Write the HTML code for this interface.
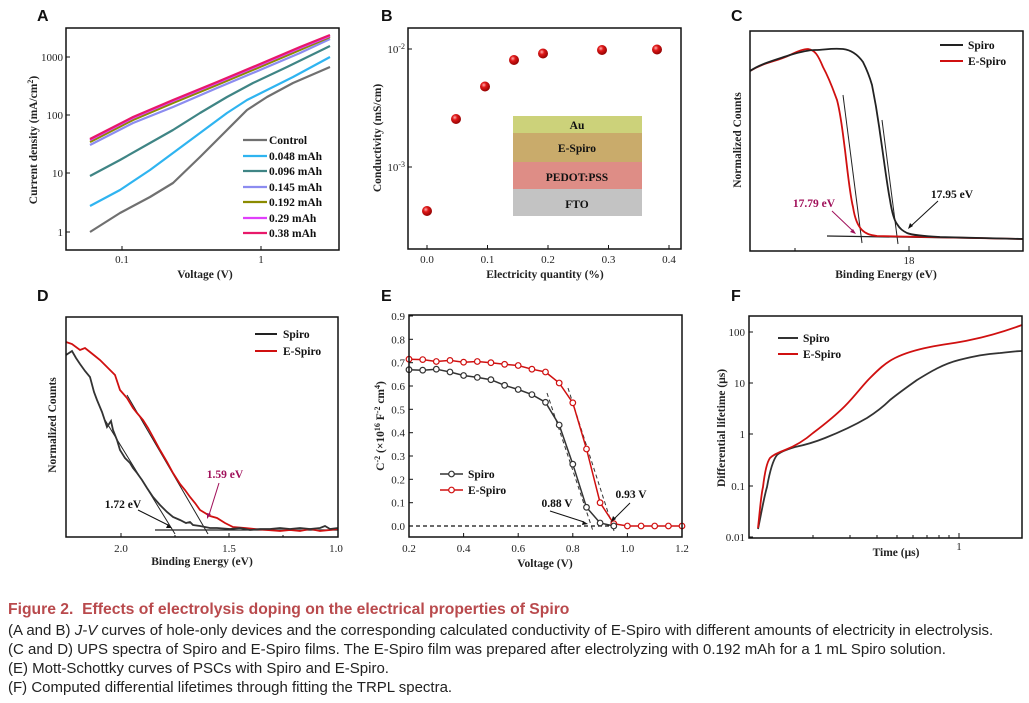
<!DOCTYPE html>
<html><head><meta charset="utf-8">
<style>
html,body{margin:0;padding:0;background:#fff;}
body{width:1029px;height:703px;overflow:hidden;position:relative;}
svg text{font-family:"Liberation Serif",serif;}
.tk{font-size:11px;fill:#222;}
.ti{font-size:11.5px;font-weight:bold;fill:#222;}
.lg{font-size:11.5px;font-weight:bold;fill:#111;}
.pl{font-family:"Liberation Sans",sans-serif !important;font-size:16px;font-weight:bold;fill:#111;}
.cap{position:absolute;left:8px;font-family:"Liberation Sans",sans-serif;font-size:15px;color:#222;white-space:nowrap;}
</style></head><body>
<svg width="1029" height="600" viewBox="0 0 1029 600" style="position:absolute;left:0;top:0">
<defs>
<radialGradient id="sp" cx="0.38" cy="0.35" r="0.7">
<stop offset="0" stop-color="#ffb0b0"/><stop offset="0.35" stop-color="#e01818"/><stop offset="1" stop-color="#8a0000"/>
</radialGradient>
</defs>
<text class="pl" x="37" y="21">A</text>
<text class="pl" x="381" y="21">B</text>
<text class="pl" x="731" y="21">C</text>
<text class="pl" x="37" y="301">D</text>
<text class="pl" x="381" y="301">E</text>
<text class="pl" x="731" y="301">F</text>

<!-- ===== Panel A ===== -->
<g fill="none" stroke-width="2.2" stroke-linejoin="round">
<polyline stroke="#707070" points="90,232 120,213 150,197 173,183 200,157 227,130 247,110 267,97 293,83 330,67"/>
<polyline stroke="#2fb4f0" points="90,206 120,190 150,170 173,153 200,133 227,113 247,100 267,90 293,77 330,57"/>
<polyline stroke="#3f8585" points="90,176 120,160 150,143 173,130 200,113 227,97 253,83 287,67 330,46"/>
<polyline stroke="#8c8cf0" points="90,145 133,123 173,107 217,88 260,70 300,53 330,39"/>
<polyline stroke="#8b8b00" points="90,142 133,120 173,103 217,85 260,67 300,50 330,37"/>
<polyline stroke="#e040fb" points="90,140 133,118 173,101 217,83 260,65 300,48 330,36"/>
<polyline stroke="#e8196a" points="90,139 133,117 173,100 217,82 260,64 300,47 330,35"/>
</g>
<rect x="66" y="28" width="273" height="222" fill="none" stroke="#111" stroke-width="1.5"/>
<g stroke="#111" stroke-width="1">
<line x1="66" y1="57" x2="70" y2="57"/><line x1="66" y1="115" x2="70" y2="115"/><line x1="66" y1="173" x2="70" y2="173"/><line x1="66" y1="232" x2="70" y2="232"/>
<line x1="122" y1="250" x2="122" y2="246"/><line x1="261" y1="250" x2="261" y2="246"/>
</g>
<g class="tk" text-anchor="end"><text x="63" y="61">1000</text><text x="63" y="119">100</text><text x="63" y="177">10</text><text x="63" y="236">1</text></g>
<g class="tk" text-anchor="middle"><text x="122" y="263">0.1</text><text x="261" y="263">1</text></g>
<text class="ti" x="205" y="278" text-anchor="middle">Voltage (V)</text>
<text class="ti" transform="translate(37,140) rotate(-90)" text-anchor="middle">Current density (mA/cm<tspan dy="-4" font-size="8">2</tspan><tspan dy="4">)</tspan></text>
<g stroke-width="2.2">
<line x1="243" y1="140" x2="267" y2="140" stroke="#707070"/>
<line x1="243" y1="156" x2="267" y2="156" stroke="#2fb4f0"/>
<line x1="243" y1="171" x2="267" y2="171" stroke="#3f8585"/>
<line x1="243" y1="187" x2="267" y2="187" stroke="#8c8cf0"/>
<line x1="243" y1="202" x2="267" y2="202" stroke="#8b8b00"/>
<line x1="243" y1="218" x2="267" y2="218" stroke="#e040fb"/>
<line x1="243" y1="233" x2="267" y2="233" stroke="#e8196a"/>
</g>
<g class="lg"><text x="269" y="144">Control</text><text x="269" y="160">0.048 mAh</text><text x="269" y="175">0.096 mAh</text><text x="269" y="191">0.145 mAh</text><text x="269" y="206">0.192 mAh</text><text x="269" y="222">0.29 mAh</text><text x="269" y="237">0.38 mAh</text></g>

<!-- ===== Panel B ===== -->
<rect x="513" y="116" width="129" height="17" fill="#ccd27a"/>
<rect x="513" y="133" width="129" height="29" fill="#c9ab6b"/>
<rect x="513" y="162" width="129" height="27" fill="#de8d86"/>
<rect x="513" y="189" width="129" height="27" fill="#c3c3c3"/>
<g class="lg" text-anchor="middle"><text x="577" y="129">Au</text><text x="577" y="152">E-Spiro</text><text x="577" y="181">PEDOT:PSS</text><text x="577" y="208">FTO</text></g>
<g fill="url(#sp)">
<circle cx="427" cy="211" r="5"/><circle cx="456" cy="119" r="5"/><circle cx="485" cy="86.5" r="5"/><circle cx="514" cy="60" r="5"/><circle cx="543" cy="53.5" r="5"/><circle cx="602" cy="50" r="5"/><circle cx="657" cy="49.5" r="5"/>
</g>
<rect x="408" y="28" width="273" height="221" fill="none" stroke="#111" stroke-width="1.5"/>
<g stroke="#111" stroke-width="1">
<line x1="408" y1="49" x2="412" y2="49"/><line x1="408" y1="167" x2="412" y2="167"/>
<line x1="427" y1="249" x2="427" y2="245"/><line x1="487.5" y1="249" x2="487.5" y2="245"/><line x1="548" y1="249" x2="548" y2="245"/><line x1="608.5" y1="249" x2="608.5" y2="245"/><line x1="669" y1="249" x2="669" y2="245"/>
</g>
<g class="tk" text-anchor="end"><text x="405" y="53">10<tspan dy="-4" font-size="8">-2</tspan></text><text x="405" y="171">10<tspan dy="-4" font-size="8">-3</tspan></text></g>
<g class="tk" text-anchor="middle"><text x="427" y="263">0.0</text><text x="487.5" y="263">0.1</text><text x="548" y="263">0.2</text><text x="608.5" y="263">0.3</text><text x="669" y="263">0.4</text></g>
<text class="ti" x="545" y="278" text-anchor="middle">Electricity quantity (%)</text>
<text class="ti" transform="translate(381,138) rotate(-90)" text-anchor="middle">Conductivity (mS/cm)</text>

<!-- ===== Panel C ===== -->
<line x1="827" y1="236" x2="1023" y2="239" stroke="#222" stroke-width="1.2"/>
<line x1="843" y1="95" x2="862" y2="243" stroke="#222" stroke-width="1"/>
<line x1="882" y1="120" x2="898" y2="244" stroke="#222" stroke-width="1"/>
<path d="M750,71 C765,62 775,62 790,55 C800,50 805,49 808,49 C815,50 818,55 823,67 C830,80 834,92 837,100 C841,115 843,135 845,150 C848,175 850,195 853,207 C855,220 858,226 862,230 C866,234 870,235 877,236 L1023,239" fill="none" stroke="#d01010" stroke-width="1.8"/>
<path d="M750,71 C760,64 775,60 790,55 C800,52 808,50 815,50 C825,50 830,48 843,49 C852,50 858,55 863,62 C867,70 870,78 872,85 C875,100 878,118 880,133 C884,160 887,185 890,200 C892,213 894,220 897,224 C900,229 903,231 907,233 C912,235 920,236 940,237 L1023,239" fill="none" stroke="#222" stroke-width="1.8"/>
<rect x="750" y="31" width="273" height="220" fill="none" stroke="#111" stroke-width="1.5"/>
<g stroke="#111" stroke-width="1"><line x1="795" y1="251" x2="795" y2="248"/><line x1="909" y1="251" x2="909" y2="246"/></g>
<text class="tk" x="909" y="264" text-anchor="middle">18</text>
<text class="ti" x="886" y="278" text-anchor="middle">Binding Energy (eV)</text>
<text class="ti" transform="translate(741,140) rotate(-90)" text-anchor="middle">Normalized Counts</text>
<line x1="940" y1="45" x2="963" y2="45" stroke="#222" stroke-width="2"/><line x1="940" y1="61" x2="963" y2="61" stroke="#d01010" stroke-width="2"/>
<text class="lg" x="968" y="49">Spiro</text><text class="lg" x="968" y="65">E-Spiro</text>
<text class="lg" x="814" y="207" text-anchor="middle" style="fill:#a0105a">17.79 eV</text>
<line x1="832" y1="211" x2="853" y2="231" stroke="#a0105a" stroke-width="1"/><path d="M856,234 l-6,-2 l3,-3z" fill="#a0105a"/>
<text class="lg" x="952" y="198" text-anchor="middle">17.95 eV</text>
<line x1="938" y1="201" x2="911" y2="226" stroke="#111" stroke-width="1"/><path d="M908,229 l2,-6 l3,3z" fill="#111"/>

<!-- ===== Panel D ===== -->
<line x1="155" y1="530" x2="338" y2="530" stroke="#222" stroke-width="1.2"/>
<line x1="105" y1="420" x2="175" y2="534" stroke="#222" stroke-width="1"/>
<line x1="127" y1="395" x2="208" y2="534" stroke="#222" stroke-width="1"/>
<polyline fill="none" stroke="#d01010" stroke-width="1.8" points="66,342 72,344 80,350 85,348 90,352 95,356 100,360 105,365 110,370 115,375 120,390 127,398 133,408 137,413 143,420 148,428 153,437 160,450 167,462 173,473 180,484 185,490 190,497 195,503 200,510 205,513 210,516 217,518 225,523 233,527 245,528 255,529 267,530 280,531 290,530 300,531 310,529 320,531 330,530 338,529"/>
<polyline fill="none" stroke="#333" stroke-width="1.8" points="66,355 69,353 72,351 76,358 80,364 85,371 90,377 94,392 97,400 102,412 107,427 111,421 113,430 117,440 120,450 125,458 130,463 133,468 137,473 142,480 147,488 153,497 160,505 167,512 173,517 180,520 186,523 190,522 193,525 200,526 210,528 217,528 230,529 240,528 250,530 260,529 270,529 280,528 290,529 300,528 310,529 320,528 325,526 330,529 338,528"/>
<rect x="66" y="317" width="272" height="220" fill="none" stroke="#111" stroke-width="1.5"/>
<g stroke="#111" stroke-width="1"><line x1="121" y1="537" x2="121" y2="533"/><line x1="229" y1="537" x2="229" y2="533"/><line x1="175" y1="537" x2="175" y2="535"/><line x1="283" y1="537" x2="283" y2="535"/></g>
<g class="tk" text-anchor="middle"><text x="121" y="552">2.0</text><text x="229" y="552">1.5</text><text x="336" y="552">1.0</text></g>
<text class="ti" x="202" y="565" text-anchor="middle">Binding Energy (eV)</text>
<text class="ti" transform="translate(56,425) rotate(-90)" text-anchor="middle">Normalized Counts</text>
<line x1="255" y1="334" x2="277" y2="334" stroke="#222" stroke-width="2"/><line x1="255" y1="351" x2="277" y2="351" stroke="#d01010" stroke-width="2"/>
<text class="lg" x="283" y="338">Spiro</text><text class="lg" x="283" y="355">E-Spiro</text>
<text class="lg" x="123" y="508" text-anchor="middle">1.72 eV</text>
<line x1="138" y1="510" x2="168" y2="525" stroke="#111" stroke-width="1"/><path d="M172,528 l-6,0 l2,-4z" fill="#111"/>
<text class="lg" x="225" y="478" text-anchor="middle" style="fill:#a0105a">1.59 eV</text>
<line x1="219" y1="483" x2="209" y2="515" stroke="#a0105a" stroke-width="1"/><path d="M207,519 l0,-6 l4,1z" fill="#a0105a"/>

<!-- ===== Panel E ===== -->
<line x1="409" y1="526" x2="616" y2="526" stroke="#111" stroke-width="1.3" stroke-dasharray="4,3"/>
<g stroke="#333" stroke-width="1" stroke-dasharray="4,3"><line x1="547" y1="393" x2="593" y2="531"/><line x1="568" y1="388" x2="614" y2="531"/></g>
<polyline fill="none" stroke="#d01010" stroke-width="1.5" points="409,359.2 422.7,359.6 436.3,361.5 450,360.4 463.6,362.2 477.3,361.5 490.9,362.7 504.6,364.3 518.2,365.5 531.9,369.2 545.5,372 559.2,383 572.8,402.8 586.5,449 600.1,502.7 613.8,523.7 627.4,526 641.1,526 654.7,526 668.4,526 682,526"/>
<polyline fill="none" stroke="#333" stroke-width="1.5" points="409,369.7 422.7,370.2 436.3,369.2 450,372 463.6,375.5 477.3,377.4 490.9,379.7 504.6,385.3 518.2,389.5 531.9,394.6 545.5,402.3 559.2,425 572.8,464.2 586.5,507.3 600.1,523 613.8,526"/>
<g fill="#fff" stroke="#d01010" stroke-width="1.2">
<circle cx="409" cy="359.2" r="2.8"/><circle cx="422.7" cy="359.6" r="2.8"/><circle cx="436.3" cy="361.5" r="2.8"/><circle cx="450" cy="360.4" r="2.8"/><circle cx="463.6" cy="362.2" r="2.8"/><circle cx="477.3" cy="361.5" r="2.8"/><circle cx="490.9" cy="362.7" r="2.8"/><circle cx="504.6" cy="364.3" r="2.8"/><circle cx="518.2" cy="365.5" r="2.8"/><circle cx="531.9" cy="369.2" r="2.8"/><circle cx="545.5" cy="372" r="2.8"/><circle cx="559.2" cy="383" r="2.8"/><circle cx="572.8" cy="402.8" r="2.8"/><circle cx="586.5" cy="449" r="2.8"/><circle cx="600.1" cy="502.7" r="2.8"/><circle cx="613.8" cy="523.7" r="2.8"/><circle cx="627.4" cy="526" r="2.8"/><circle cx="641.1" cy="526" r="2.8"/><circle cx="654.7" cy="526" r="2.8"/><circle cx="668.4" cy="526" r="2.8"/><circle cx="682" cy="526" r="2.8"/>
</g>
<g fill="#fff" stroke="#333" stroke-width="1.2">
<circle cx="409" cy="369.7" r="2.8"/><circle cx="422.7" cy="370.2" r="2.8"/><circle cx="436.3" cy="369.2" r="2.8"/><circle cx="450" cy="372" r="2.8"/><circle cx="463.6" cy="375.5" r="2.8"/><circle cx="477.3" cy="377.4" r="2.8"/><circle cx="490.9" cy="379.7" r="2.8"/><circle cx="504.6" cy="385.3" r="2.8"/><circle cx="518.2" cy="389.5" r="2.8"/><circle cx="531.9" cy="394.6" r="2.8"/><circle cx="545.5" cy="402.3" r="2.8"/><circle cx="559.2" cy="425" r="2.8"/><circle cx="572.8" cy="464.2" r="2.8"/><circle cx="586.5" cy="507.3" r="2.8"/><circle cx="600.1" cy="523" r="2.8"/><circle cx="613.8" cy="526" r="2.8"/>
</g>
<rect x="409" y="315" width="273" height="222" fill="none" stroke="#111" stroke-width="1.5"/>
<g stroke="#111" stroke-width="1">
<line x1="409" y1="316" x2="413" y2="316"/><line x1="409" y1="339.3" x2="413" y2="339.3"/><line x1="409" y1="362.7" x2="413" y2="362.7"/><line x1="409" y1="386" x2="413" y2="386"/><line x1="409" y1="409.3" x2="413" y2="409.3"/><line x1="409" y1="432.7" x2="413" y2="432.7"/><line x1="409" y1="456" x2="413" y2="456"/><line x1="409" y1="479.3" x2="413" y2="479.3"/><line x1="409" y1="502.7" x2="413" y2="502.7"/><line x1="409" y1="526" x2="413" y2="526"/>
<line x1="463.6" y1="537" x2="463.6" y2="533"/><line x1="518.2" y1="537" x2="518.2" y2="533"/><line x1="572.8" y1="537" x2="572.8" y2="533"/><line x1="627.4" y1="537" x2="627.4" y2="533"/>
</g>
<g class="tk" text-anchor="end"><text x="405" y="320">0.9</text><text x="405" y="343.3">0.8</text><text x="405" y="366.7">0.7</text><text x="405" y="390">0.6</text><text x="405" y="413.3">0.5</text><text x="405" y="436.7">0.4</text><text x="405" y="460">0.3</text><text x="405" y="483.3">0.2</text><text x="405" y="506.7">0.1</text><text x="405" y="530">0.0</text></g>
<g class="tk" text-anchor="middle"><text x="409" y="552">0.2</text><text x="463.6" y="552">0.4</text><text x="518.2" y="552">0.6</text><text x="572.8" y="552">0.8</text><text x="627.4" y="552">1.0</text><text x="682" y="552">1.2</text></g>
<text class="ti" x="545" y="567" text-anchor="middle">Voltage (V)</text>
<text class="ti" transform="translate(384,426) rotate(-90)" text-anchor="middle">C<tspan dy="-4" font-size="8">-2</tspan><tspan dy="4"> (×10</tspan><tspan dy="-4" font-size="8">16</tspan><tspan dy="4"> F</tspan><tspan dy="-4" font-size="8">-2</tspan><tspan dy="4"> cm</tspan><tspan dy="-4" font-size="8">4</tspan><tspan dy="4">)</tspan></text>
<line x1="440" y1="474" x2="463" y2="474" stroke="#333" stroke-width="1.5"/><circle cx="451.5" cy="474" r="2.8" fill="#fff" stroke="#333" stroke-width="1.2"/>
<line x1="440" y1="490" x2="463" y2="490" stroke="#d01010" stroke-width="1.5"/><circle cx="451.5" cy="490" r="2.8" fill="#fff" stroke="#d01010" stroke-width="1.2"/>
<text class="lg" x="468" y="478">Spiro</text><text class="lg" x="468" y="494">E-Spiro</text>
<text class="lg" x="557" y="507" text-anchor="middle">0.88 V</text>
<line x1="550" y1="511" x2="584" y2="522" stroke="#111" stroke-width="1"/><path d="M588,524 l-6,1 l1,-4z" fill="#111"/>
<text class="lg" x="631" y="498" text-anchor="middle">0.93 V</text>
<line x1="630" y1="503" x2="614" y2="519" stroke="#111" stroke-width="1"/><path d="M611,522 l2,-6 l3,3z" fill="#111"/>

<!-- ===== Panel F ===== -->
<path d="M758,529 C761,515 764,497 767,487 C770,470 773,460 777,455 C780,452 785,450 795,447 C805,445 815,442 825,438 C840,432 855,425 867,418 C878,411 885,405 890,400 C900,392 910,385 917,380 C930,372 943,364 959,360 C975,356 985,354 1000,353 C1010,352 1016,351 1022,351" fill="none" stroke="#333" stroke-width="1.8"/>
<path d="M758,528 C760,510 761,495 763,487 C765,470 767,462 770,458 C773,455 777,453 785,450 C795,446 805,440 813,433 C825,424 835,416 845,406 C855,396 862,386 870,378 C878,370 885,363 895,358 C905,353 915,350 930,347 C945,344 957,343 970,340 C985,337 1000,333 1022,325" fill="none" stroke="#d01010" stroke-width="1.8"/>
<rect x="749" y="316" width="273" height="222" fill="none" stroke="#111" stroke-width="1.5"/>
<g stroke="#111" stroke-width="1">
<line x1="749" y1="332" x2="753" y2="332"/><line x1="749" y1="383" x2="753" y2="383"/><line x1="749" y1="434" x2="753" y2="434"/><line x1="749" y1="486" x2="753" y2="486"/><line x1="749" y1="537" x2="753" y2="537"/>
<line x1="813" y1="538" x2="813" y2="535"/><line x1="850" y1="538" x2="850" y2="535"/><line x1="877" y1="538" x2="877" y2="535"/><line x1="897" y1="538" x2="897" y2="535"/><line x1="913" y1="538" x2="913" y2="535"/><line x1="927" y1="538" x2="927" y2="535"/><line x1="939" y1="538" x2="939" y2="535"/><line x1="949" y1="538" x2="949" y2="535"/><line x1="959" y1="538" x2="959" y2="533"/>
</g>
<g class="tk" text-anchor="end"><text x="745" y="336">100</text><text x="745" y="387">10</text><text x="745" y="438">1</text><text x="745" y="490">0.1</text><text x="745" y="541">0.01</text></g>
<text class="tk" x="959" y="550" text-anchor="middle">1</text>
<text class="ti" x="896" y="556" text-anchor="middle">Time (μs)</text>
<text class="ti" transform="translate(725,428) rotate(-90)" text-anchor="middle">Differential lifetime (μs)</text>
<line x1="778" y1="338" x2="798" y2="338" stroke="#333" stroke-width="2"/><line x1="778" y1="354" x2="798" y2="354" stroke="#d01010" stroke-width="2"/>
<text class="lg" x="803" y="342">Spiro</text><text class="lg" x="803" y="358">E-Spiro</text>
</svg>

<div class="cap" style="top:601px;font-weight:bold;font-size:15.7px;color:#b94a4d;">Figure 2.&nbsp; Effects of electrolysis doping on the electrical properties of Spiro</div>
<div class="cap" style="top:622px">(A and B) <i>J-V</i> curves of hole-only devices and the corresponding calculated conductivity of E-Spiro with different amounts of electricity in electrolysis.</div>
<div class="cap" style="top:641px">(C and D) UPS spectra of Spiro and E-Spiro films. The E-Spiro film was prepared after electrolyzing with 0.192 mAh for a 1 mL Spiro solution.</div>
<div class="cap" style="top:660px">(E) Mott-Schottky curves of PSCs with Spiro and E-Spiro.</div>
<div class="cap" style="top:679px">(F) Computed differential lifetimes through fitting the TRPL spectra.</div>
</body></html>
